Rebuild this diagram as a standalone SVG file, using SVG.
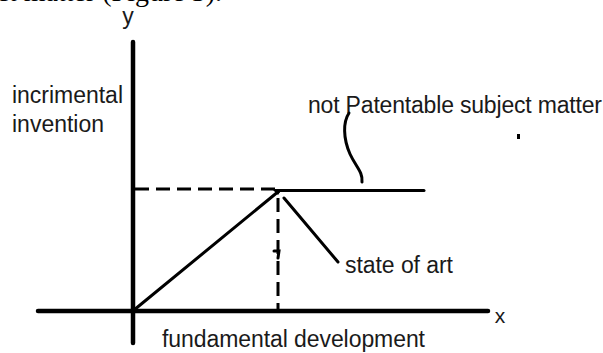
<svg xmlns="http://www.w3.org/2000/svg" width="603" height="353" viewBox="0 0 603 353">
<style>
.t{font-family:"Liberation Sans",Arial,sans-serif;font-size:23px;fill:#1a1a1a}
.ax{stroke:#000;stroke-width:4.5;stroke-linecap:round;fill:none}
.ln{stroke:#000;stroke-width:3;fill:none;stroke-linecap:round}
.ds{stroke:#000;stroke-width:3;fill:none;stroke-dasharray:14 7}
</style>
<rect width="603" height="353" fill="#fff"/>
<text x="222" y="1" text-anchor="end" style="font-family:'Liberation Serif',serif;font-size:28px;fill:#000">ect matter (Figure 3).</text>
<g id="axes">
<line class="ax" x1="133" y1="42" x2="133" y2="343"/>
<line class="ax" x1="38" y1="311" x2="488" y2="311"/>
</g>
<g id="labels">
<text class="t" x="128" y="24" text-anchor="middle">y</text>
<text class="t" x="500" y="323" text-anchor="middle" style="font-size:21px">x</text>
<text class="t" x="12" y="103" textLength="111">incrimental</text>
<text class="t" x="12" y="132">invention</text>
<text class="t" x="308" y="113" textLength="294">not Patentable subject matter</text>
<text class="t" x="345" y="273" textLength="108">state of art</text>
<text class="t" x="162" y="347" textLength="263">fundamental development</text>
</g>
<g id="connectors">
<line class="ds" x1="135" y1="189" x2="276" y2="189"/>
<line class="ln" x1="278" y1="190.5" x2="424" y2="190.5"/>
<line class="ln" x1="134" y1="310" x2="279" y2="191"/>
<path d="M272 189 L282 189 L278 195 Z" fill="#000"/>
<line class="ds" x1="278" y1="198" x2="278" y2="311"/>
<path class="ln" d="M274 251 L279 251 L278 258" stroke-width="2.5"/>
<line class="ln" x1="284" y1="198" x2="338" y2="262"/>
<path class="ln" d="M349 113 C343 122 343 138 350 154 C356 167 363 172 362 182"/>
<rect x="517" y="134" width="3" height="5" fill="#000"/>
</g>
</svg>
